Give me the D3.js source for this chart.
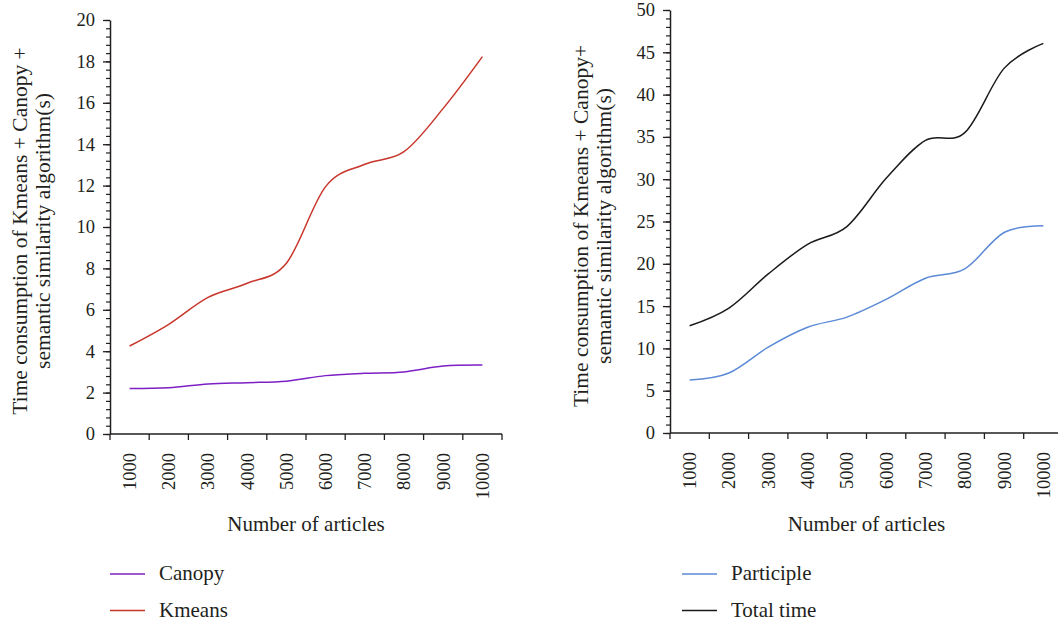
<!DOCTYPE html>
<html>
<head>
<meta charset="utf-8">
<script src="https://cdn.jsdelivr.net/npm/d3@7"></script>
<style>
  html, body { margin: 0; padding: 0; background: #fff; }
  svg { display: block; }
  text { font-family: "Liberation Serif", "DejaVu Serif", serif; fill: #231f20; }
</style>
</head>
<body>
<svg id="chart" width="1058" height="624"></svg>
<script>
// Number of articles processed
const articles = ["1000", "2000", "3000", "4000", "5000", "6000", "7000", "8000", "9000", "10000"];

// Time (s) for the clustering stage
const canopy = [2.2, 2.24, 2.42, 2.48, 2.55, 2.82, 2.93, 3.0, 3.28, 3.33];
const kmeans = [4.25, 5.3, 6.6, 7.28, 8.25, 11.95, 13.03, 13.64, 15.73, 18.23];

// Time (s) for segmentation and the whole pipeline
const participle = [6.26, 7.1, 10.15, 12.5, 13.7, 15.8, 18.3, 19.4, 23.7, 24.5];
const totalTime = [12.67, 14.76, 18.8, 22.3, 24.4, 30.1, 34.6, 35.5, 43.1, 46.06];

const leftTicks = [0, 2, 4, 6, 8, 10, 12, 14, 16, 18, 20];
const rightTicks = [0, 5, 10, 15, 20, 25, 30, 35, 40, 45, 50];

const ink = "#231f20";
const svg = d3.select("#chart");

function panel(cfg) {
  const g = svg.append("g");
  const x = d3.scaleBand().domain(articles).range(cfg.xRange).paddingInner(0).paddingOuter(0);
  const y = d3.scaleLinear().domain(cfg.yDomain).range(cfg.yRange);
  const bottom = cfg.yRange[0];
  const left = cfg.xRange[0];

  // minor y ticks
  g.append("g")
    .attr("transform", `translate(${left},0)`)
    .call(d3.axisLeft(y).tickValues(d3.range(cfg.yDomain[0], cfg.yDomain[1] + 1e-9, cfg.minor)).tickSize(4).tickFormat(""))
    .call(a => a.select(".domain").remove())
    .call(a => a.selectAll("line").attr("stroke", ink).attr("stroke-width", 1.2));

  // major y ticks with labels
  g.append("g")
    .attr("transform", `translate(${left},0)`)
    .call(d3.axisLeft(y).tickValues(cfg.ticks).tickSize(7).tickPadding(8).tickSizeOuter(0))
    .call(a => a.select(".domain").attr("stroke", ink).attr("stroke-width", 1.5))
    .call(a => a.selectAll("line").attr("stroke", ink).attr("stroke-width", 1.3))
    .call(a => a.selectAll("text").attr("font-size", 18.5).attr("fill", ink)
      .style("font-family", '"Liberation Serif", serif'));

  // x axis: line, ticks at band edges, labels at band centres
  const xa = g.append("g");
  xa.append("line")
    .attr("x1", cfg.xRange[0]).attr("x2", cfg.xRange[1])
    .attr("y1", bottom).attr("y2", bottom)
    .attr("stroke", ink).attr("stroke-width", 1.5);
  const edges = articles.map(d => x(d)).concat([x(articles[articles.length - 1]) + x.bandwidth()]);
  xa.selectAll("line.tick").data(edges).join("line")
    .attr("class", "tick")
    .attr("x1", d => d).attr("x2", d => d)
    .attr("y1", bottom).attr("y2", bottom + 6)
    .attr("stroke", ink).attr("stroke-width", 1.3);
  xa.selectAll("text").data(articles).join("text")
    .attr("transform", d => `translate(${x(d) + x.bandwidth() / 2},${bottom + 19}) rotate(-90)`)
    .attr("text-anchor", "end")
    .attr("dy", "0.35em")
    .attr("font-size", 18.5)
    .text(d => d);

  // axis titles
  g.append("text")
    .attr("x", (cfg.xRange[0] + cfg.xRange[1]) / 2)
    .attr("y", 531)
    .attr("text-anchor", "middle")
    .attr("font-size", 21)
    .text("Number of articles");

  const yt = g.append("text")
    .attr("transform", `translate(${cfg.yTitleX},${cfg.yTitleY}) rotate(-90)`)
    .attr("text-anchor", "middle")
    .attr("font-size", 21.5);
  yt.append("tspan").attr("x", 0).attr("dy", "0.35em").text(cfg.yTitle1);
  yt.append("tspan").attr("x", 0).attr("dy", "1.1em").text(cfg.yTitle2);

  // series
  const line = d3.line()
    .x((d, i) => x(articles[i]) + x.bandwidth() / 2)
    .y(d => y(d))
    .curve(d3.curveCardinal.tension(0));
  cfg.series.forEach(s => {
    g.append("path")
      .datum(s.values)
      .attr("fill", "none")
      .attr("stroke", s.color)
      .attr("stroke-width", 1.5)
      .attr("d", line);
  });

  // legend
  cfg.series.forEach((s, i) => {
    const ly = 574 + i * 36.5;
    g.append("line")
      .attr("x1", cfg.legendX).attr("x2", cfg.legendX + 35)
      .attr("y1", ly).attr("y2", ly)
      .attr("stroke", s.color).attr("stroke-width", 1.5);
    g.append("text")
      .attr("x", cfg.legendX + 49)
      .attr("y", ly + 6)
      .attr("font-size", 21)
      .text(s.name);
  });
}

panel({
  xRange: [110, 502],
  yRange: [434, 20],
  yDomain: [0, 20],
  ticks: leftTicks,
  minor: 0.4,
  yTitleX: 19,
  yTitleY: 231,
  yTitle1: "Time consumption of Kmeans + Canopy +",
  yTitle2: "semantic similarity algorithm(s)",
  legendX: 110,
  series: [
    { name: "Canopy", values: canopy, color: "#7d1fc4" },
    { name: "Kmeans", values: kmeans, color: "#c8352a" }
  ]
});

panel({
  xRange: [670, 1063],
  yRange: [433, 10],
  yDomain: [0, 50],
  ticks: rightTicks,
  minor: 1,
  yTitleX: 580,
  yTitleY: 226,
  yTitle1: "Time consumption of Kmeans + Canopy+",
  yTitle2: "semantic similarity algorithm(s)",
  legendX: 682,
  series: [
    { name: "Participle", values: participle, color: "#5b8ad6" },
    { name: "Total time", values: totalTime, color: "#1a1a1a" }
  ]
});
</script>
</body>
</html>
